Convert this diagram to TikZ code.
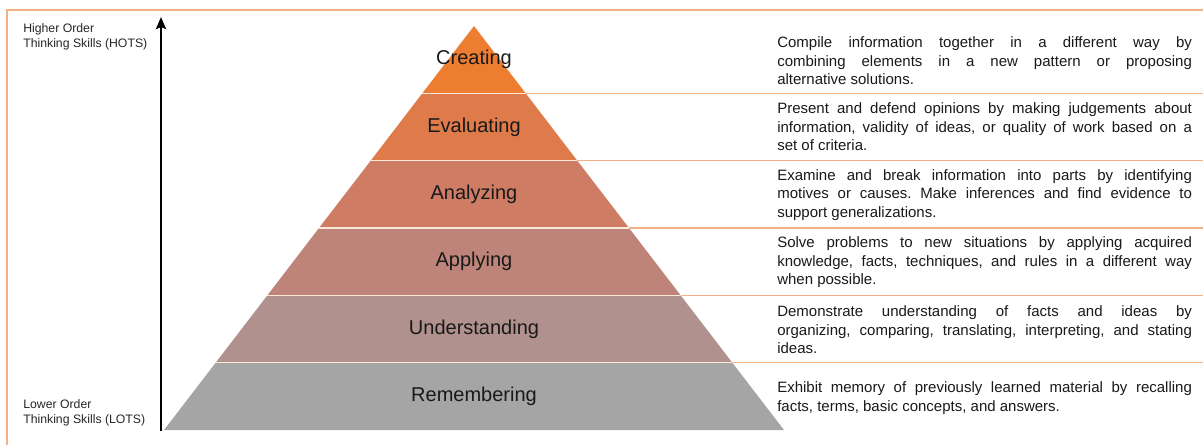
\documentclass[tikz,border=0pt]{standalone}
\usepackage{fontspec}
\setmainfont{Liberation Sans}
\usepackage{tikz}
\usetikzlibrary{arrows.meta}
\tikzset{>=stealth}
\frenchspacing

\definecolor{cre}{HTML}{ED7D31}
\definecolor{eva}{HTML}{DF7B4B}
\definecolor{ana}{HTML}{CE7C64}
\definecolor{app}{HTML}{BF8479}
\definecolor{und}{HTML}{B0918E}
\definecolor{rem}{HTML}{A5A5A5}
\definecolor{sepline}{HTML}{F4B183}

\begin{document}
\begin{tikzpicture}[x=0.75pt, y=-0.75pt,
	lvl/.style={font=\fontsize{15}{18}\selectfont, text=black!90},
	desc/.style={anchor=west, inner sep=0pt, text width=311pt, align=justify, font=\fontsize{11.25}{13.9}\selectfont, text=black!90},
	side/.style={anchor=north west, inner sep=0pt, align=left, font=\fontsize{9.2}{11.25}\selectfont, text=black!85}]
	\useasboundingbox (0,0) rectangle (1203,445);
	% frame
	\draw[sepline, line width=1pt] (7,445) -- (7,10) -- (1203,10);
	% pyramid, top level first
	\fill[cre] (474,26) -- (525.7,93.3) -- (422.3,93.3) -- cycle;
	\fill[eva] (422.3,93.3) -- (525.7,93.3) -- (577.3,160.7) -- (370.7,160.7) -- cycle;
	\fill[ana] (370.7,160.7) -- (577.3,160.7) -- (629,228) -- (319,228) -- cycle;
	\fill[app] (319,228) -- (629,228) -- (680.6,295.3) -- (267.4,295.3) -- cycle;
	\fill[und] (267.4,295.3) -- (680.6,295.3) -- (732.3,362.7) -- (215.7,362.7) -- cycle;
	\fill[rem] (215.7,362.7) -- (732.3,362.7) -- (784,430) -- (164,430) -- cycle;
	% gaps between the levels
	\draw[sepline!30!white, line width=1pt] (422.3,93.3) -- (525.7,93.3);
	\draw[sepline!30!white, line width=1pt] (370.7,160.7) -- (577.3,160.7);
	\draw[sepline!30!white, line width=1pt] (319,228) -- (629,228);
	\draw[sepline!30!white, line width=1pt] (267.4,295.3) -- (680.6,295.3);
	\draw[sepline!30!white, line width=1pt] (215.7,362.7) -- (732.3,362.7);
	% rules between the descriptions
	\draw[sepline, line width=1pt] (525.7,93.3) -- (1203,93.3);
	\draw[sepline, line width=1pt] (577.3,160.7) -- (1203,160.7);
	\draw[sepline, line width=1pt] (629,228) -- (1203,228);
	\draw[sepline, line width=1pt] (680.6,295.3) -- (1203,295.3);
	\draw[sepline, line width=1pt] (732.3,362.7) -- (1203,362.7);

	\node (L1) at (474,59.7) [lvl]{Creating};
	\node (L2) at (474,127) [lvl]{Evaluating};
	\node (L3) at (474,194.3) [lvl]{Analyzing};
	\node (L4) at (474,261.7) [lvl]{Applying};
	\node (L5) at (474,329) [lvl]{Understanding};
	\node (L6) at (474,396.3) [lvl]{Remembering};

	\node (D1) at (777,61) [desc]{Compile information together in a different way by\linebreak combining elements in a new pattern or proposing\linebreak alternative solutions.};
	\node (D2) at (777,127) [desc]{Present and defend opinions by making judgements about\linebreak information, validity of ideas, or quality of work based on a\linebreak set of criteria.};
	\node (D3) at (777,194.8) [desc]{Examine and break information into parts by identifying\linebreak motives or causes. Make inferences and find evidence to\linebreak support generalizations.};
	\node (D4) at (777,262.3) [desc]{Solve problems to new situations by applying acquired\linebreak knowledge, facts, techniques, and rules in a different way\linebreak when possible.};
	\node (D5) at (777,330) [desc]{Demonstrate understanding of facts and ideas by\linebreak organizing, comparing, translating, interpreting, and stating\linebreak ideas.};
	\node (D6) at (777,398) [desc]{Exhibit memory of previously learned material by recalling\linebreak facts, terms, basic concepts, and answers.};

	% thinking order axis
	\node (hots) at (23,23) [side]{Higher Order\\Thinking Skills (HOTS)};
	\node (lots) at (23,399) [side]{Lower Order\\Thinking Skills (LOTS)};
	\coordinate (lo) at (161,431);
	\coordinate (hi) at (161,17);
	\draw[-{Stealth[length=9pt,width=7.5pt,inset=1.5pt]}, line width=1.9pt] (lo) -- (hi);
\end{tikzpicture}
\end{document}
